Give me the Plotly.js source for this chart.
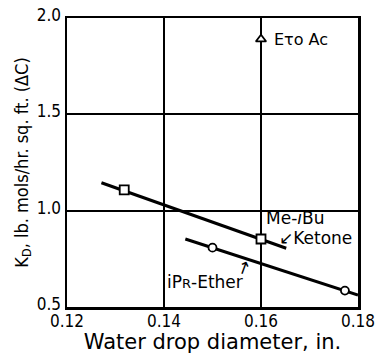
<!DOCTYPE html>
<html>
<head>
<meta charset="utf-8">
<script src="https://cdn.plot.ly/plotly-3.0.1.min.js"></script>
<style>html,body{margin:0;padding:0;background:#fff;}#chart{width:376px;height:354px;}</style>
</head>
<body>
<div id="chart"></div>
<script>
// Measured points
const ketoneX = [0.1318, 0.160];
const ketoneY = [1.108, 0.853];
const etherX = [0.150, 0.1773];
const etherY = [0.808, 0.585];
const etoacX = [0.160];
const etoacY = [1.89];
// Drawn fitted lines (endpoints)
const ketoneLineX = [0.1271, 0.1652];
const ketoneLineY = [1.145, 0.805];
const etherLineX = [0.1444, 0.1800];
const etherLineY = [0.853, 0.562];
const xTicks = [0.12, 0.14, 0.16, 0.18];
const xTickText = ['0.12', '0.14', '0.16', '0.18'];
const yTicks = [0.5, 1.0, 1.5, 2.0];
const yTickText = ['0.5', '1.0', '1.5', '2.0'];

const FONT = '"DejaVu Sans Condensed", "DejaVu Sans", sans-serif';
const FONT2 = '"DejaVu Sans", sans-serif';

const traces = [
  {x: ketoneLineX, y: ketoneLineY, mode: 'lines', line: {color: '#000', width: 3}, hoverinfo: 'skip'},
  {x: etherLineX, y: etherLineY, mode: 'lines', line: {color: '#000', width: 3}, hoverinfo: 'skip'},
  {x: ketoneX, y: ketoneY, mode: 'markers', marker: {symbol: 'square', size: 9, color: '#fff', line: {color: '#000', width: 1.8}}},
  {x: etherX, y: etherY, mode: 'markers', marker: {symbol: 'circle', size: 8, color: '#fff', line: {color: '#000', width: 1.8}}},
  {x: etoacX, y: etoacY, mode: 'markers', marker: {symbol: 'triangle-up', size: 9, color: '#fff', line: {color: '#000', width: 1.8}}}
];

const layout = {
  width: 376, height: 354,
  margin: {l: 67, r: 18, t: 18, b: 47},
  showlegend: false,
  paper_bgcolor: '#fff', plot_bgcolor: '#fff',
  font: {family: FONT, color: '#000', size: 17},
  xaxis: {
    range: [0.12, 0.18], tickvals: xTicks, ticktext: xTickText,
    showgrid: true, gridcolor: '#000', gridwidth: 2,
    showline: true, linecolor: '#000', linewidth: 2.5, mirror: true,
    ticks: '', zeroline: false, tickfont: {size: 17, family: FONT},
    ticklabelstandoff: -3, automargin: false,
    title: {text: 'Water drop diameter, in.', font: {size: 21, family: FONT2}, standoff: 0}
  },
  yaxis: {
    range: [0.5, 2.0], tickvals: yTicks, ticktext: yTickText,
    showgrid: true, gridcolor: '#000', gridwidth: 2,
    showline: true, linecolor: '#000', linewidth: 2.5, mirror: true,
    ticks: '', zeroline: false, tickfont: {size: 17, family: FONT},
    ticklabelstandoff: 0, ticklabelshift: -3, automargin: false,
    title: {text: 'K<sub>D</sub>, lb. mols/hr. sq. ft. (ΔC)', font: {size: 18, family: FONT}, standoff: 4}
  },
  annotations: [
    {x: 0.1622, y: 1.89, xref: 'x', yref: 'y', text: 'Eτo Ac', showarrow: false, xanchor: 'left', yanchor: 'middle', font: {size: 16, family: FONT2}},
    {x: 0.1606, y: 0.962, xref: 'x', yref: 'y', text: 'Me-<i>i</i>Bu', showarrow: false, xanchor: 'left', yanchor: 'middle', font: {size: 17, family: FONT2}},
    {x: 0.1633, y: 0.858, xref: 'x', yref: 'y', text: '↙Ketone', showarrow: false, xanchor: 'left', yanchor: 'middle', font: {size: 17, family: FONT2}},
    {x: 0.1402, y: 0.628, xref: 'x', yref: 'y', text: 'iP<span style="font-size:13px">R</span>-Ether', showarrow: false, xanchor: 'left', yanchor: 'middle', font: {size: 17, family: FONT2}},
    {x: 0.1565, y: 0.705, xref: 'x', yref: 'y', text: '↑', textangle: 20, showarrow: false, xanchor: 'center', yanchor: 'middle', font: {size: 17, family: FONT2}}
  ]
};

Plotly.newPlot('chart', traces, layout, {staticPlot: true, displayModeBar: false});
</script>
</body>
</html>
